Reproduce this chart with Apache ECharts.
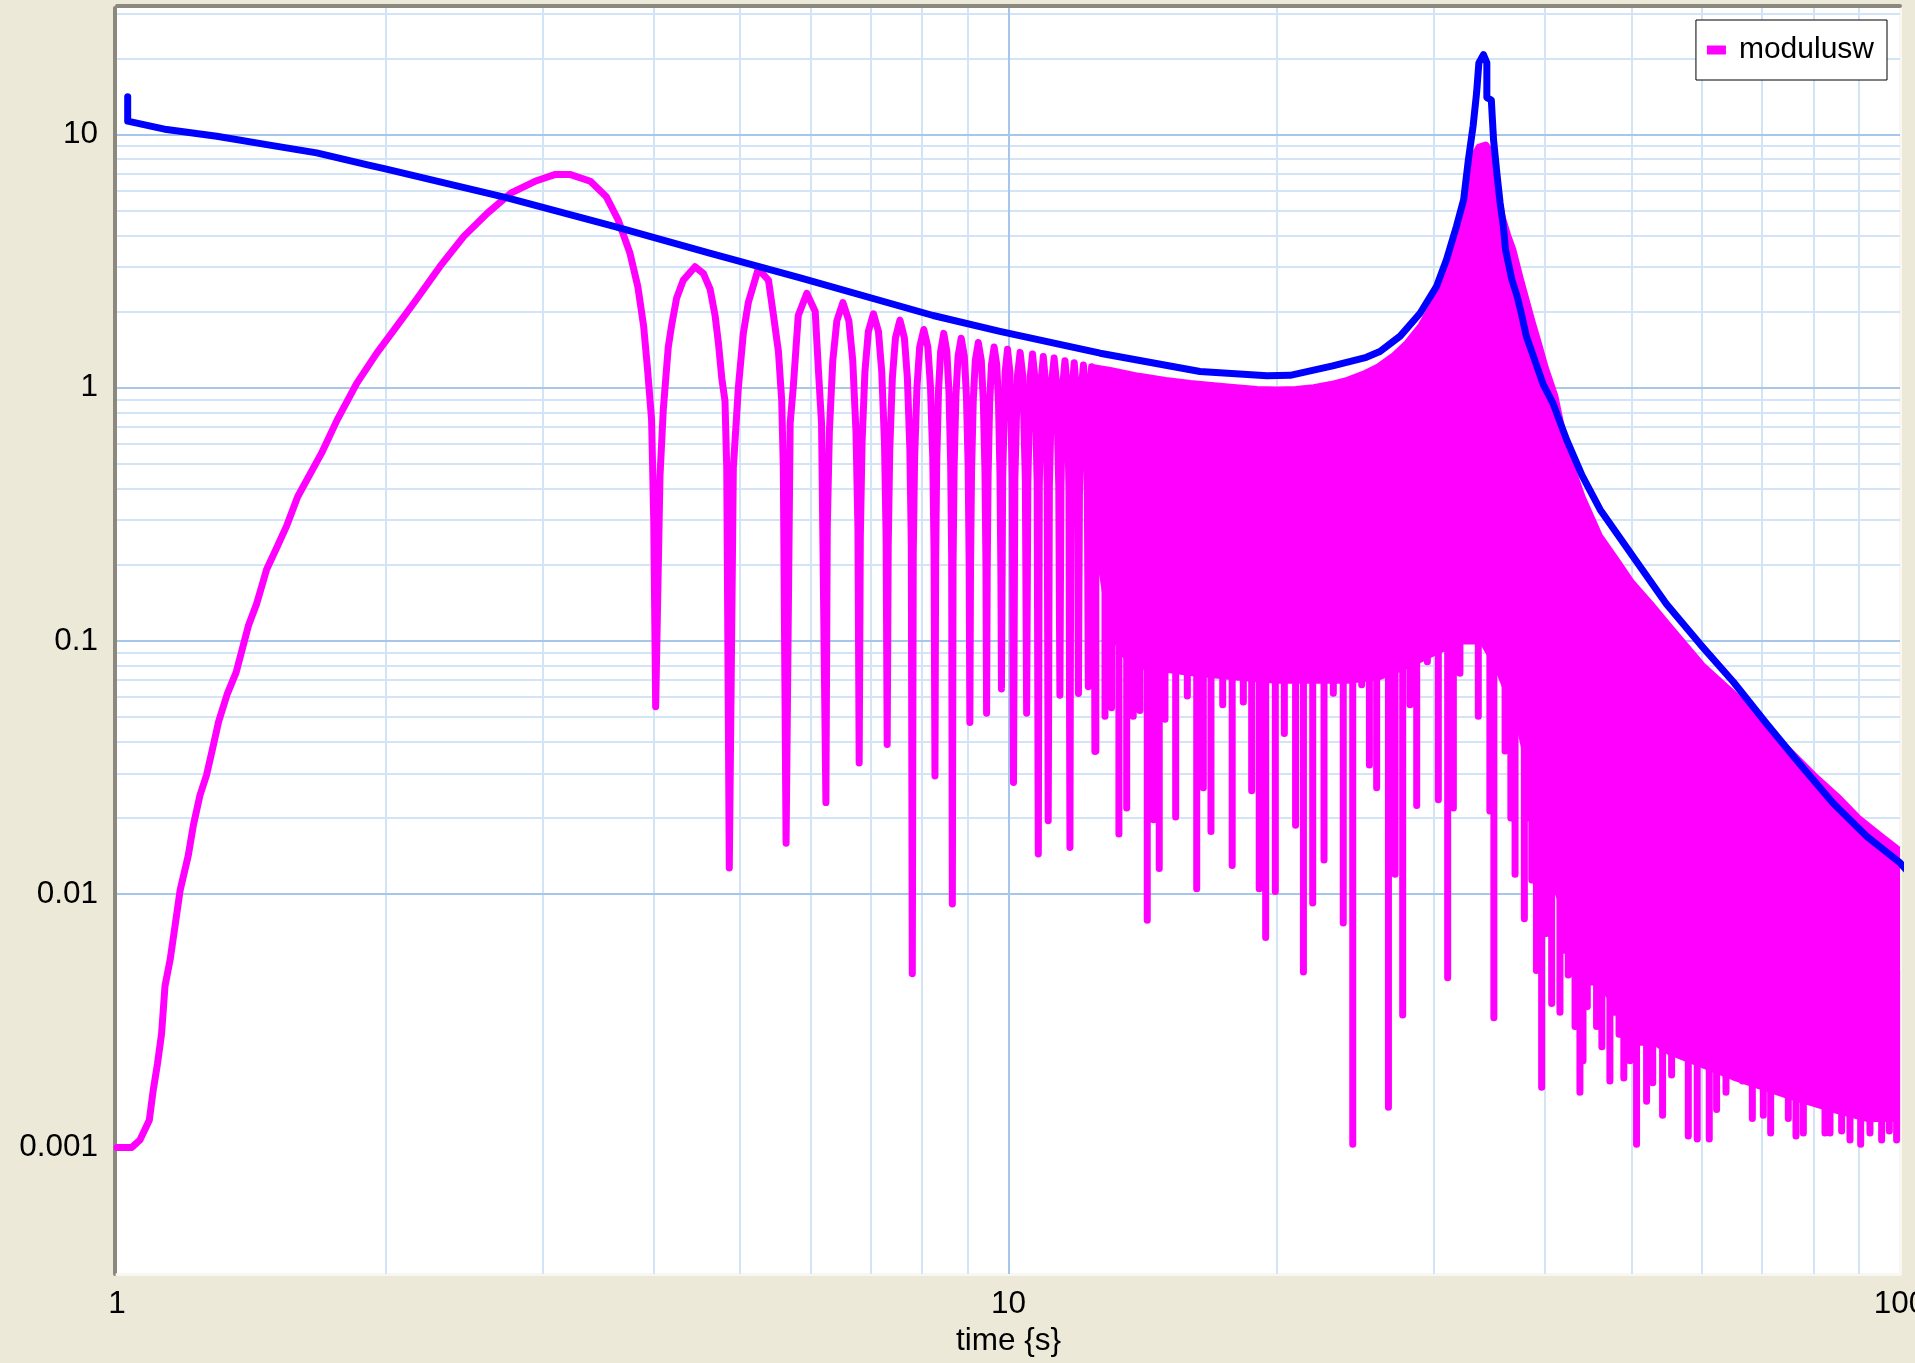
<!DOCTYPE html>
<html>
<head>
<meta charset="utf-8">
<style>
html,body{margin:0;padding:0;background:#ECE9D8;overflow:hidden;}
#chart{width:1915px;height:1363px;}
</style>
<script src="https://cdn.jsdelivr.net/npm/echarts@6/dist/echarts.min.js"></script>
</head>
<body>
<div id="chart"></div>
<script>
// ---------------- DATA ----------------
const xTicks = [1, 10, 100];
const xTickText = ['1', '10', '100'];
const yTicks = [0.001, 0.01, 0.1, 1, 10];
const yTickText = ['0.001', '0.01', '0.1', '1', '10'];
const xRange = [1, 100];
const yRange = [0.000316227766, 31.6227766];

const xGridMajor = [10];
const xGridMinor = [2, 3, 4, 5, 6, 7, 8, 9, 20, 30, 40, 50, 60, 70, 80, 90];
const yGridMajor = [0.001, 0.01, 0.1, 1, 10];
const yGridMinor = [0.002, 0.003, 0.004, 0.005, 0.006, 0.007, 0.008, 0.009,
  0.02, 0.03, 0.04, 0.05, 0.06, 0.07, 0.08, 0.09,
  0.2, 0.3, 0.4, 0.5, 0.6, 0.7, 0.8, 0.9,
  2, 3, 4, 5, 6, 7, 8, 9, 20, 30];

// blue envelope curve [time, value]
const envelope = [[1.028,14.1],[1.028,11.3],[1.137,10.47],[1.294,9.85],[1.472,9.13],[1.675,8.47],[1.905,7.61],[2.0,7.32],
  [2.74,5.62],[3.61,4.34],[4.61,3.41],[5.84,2.72],[8.23,1.93],[9.78,1.67],[12.67,1.37],[16.4,1.16],[19.5,1.117],
  [20.7,1.12],[23.1,1.22],[25.2,1.32],[26.1,1.39],[27.5,1.6],[28.95,1.97],[30.2,2.51],[31.0,3.21],[31.8,4.34],
  [32.4,5.53],[32.8,7.96],[33.2,10.8],[33.5,14.6],[33.7,19.2],[34.1,20.7],[34.4,19.2],[34.4,14.0],[34.8,13.7],
  [35.0,9.55],[35.3,7.06],[35.6,5.37],[35.9,4.34],[36.1,3.51],[36.7,2.67],[37.2,2.30],[37.6,1.97],[38.1,1.595],
  [38.8,1.33],[39.8,1.03],[40.8,0.87],[42.3,0.62],[44.0,0.45],[46.1,0.33],[50.2,0.215],[54.7,0.14],[59.7,0.097],
  [65.0,0.069],[70.9,0.047],[77.2,0.0327],[84.2,0.0228],[91.8,0.0169],[100,0.0133],[104,0.0114]];

// modulusw: first rise and first lobe
const magRise = [[1.0,0.001],[1.039,0.001],[1.061,0.00107],[1.087,0.00128],[1.098,0.00168],[1.110,0.00213],
  [1.122,0.00281],[1.132,0.00434],[1.147,0.0055],[1.162,0.00754],[1.177,0.01035],[1.202,0.0142],[1.218,0.0187],
  [1.239,0.0246],[1.26,0.0295],[1.282,0.0385],[1.30,0.048],[1.33,0.062],[1.36,0.075],[1.404,0.1148],
  [1.434,0.14],[1.472,0.192],[1.511,0.234],[1.55,0.285],[1.595,0.372],[1.696,0.552],[1.766,0.747],[1.858,1.044],
  [1.956,1.371],[2.059,1.747],[2.166,2.228],[2.303,3.016],[2.449,3.963],[2.604,4.903],[2.768,5.883],[2.944,6.54],
  [3.097,6.95],[3.227,6.95],[3.396,6.54],[3.537,5.70],[3.648,4.61],[3.761,3.41],[3.839,2.51],[3.897,1.75],
  [3.937,1.178],[3.978,0.747],[4.0,0.3],[4.02,0.055]];

// modulusw: separate lobes between 4 s and 12.5 s
const magLobes = [
  [4.065,0.446],[4.1,0.82],[4.153,1.448],[4.19,1.774],[4.244,2.264],[4.318,2.663],[4.45,3.008],[4.547,2.83],
  [4.627,2.455],[4.687,1.926],[4.727,1.508],[4.769,1.089],[4.808,0.889],[4.83,0.483],[4.862,0.0127],
  [4.913,0.483],[4.977,1.0],[5.041,1.636],[5.107,2.17],[5.24,2.95],[5.38,2.66],[5.45,1.93],[5.52,1.39],
  [5.567,0.889],[5.59,0.483],[5.63,0.0159],
  [5.69,0.726],[5.735,1.0],[5.81,1.93],[5.94,2.36],[6.07,2.0],[6.12,1.18],[6.17,0.726],[6.24,0.023],
  [6.262,0.28],[6.296,0.67],[6.352,1.28],[6.419,1.84],[6.52,2.17],[6.621,1.84],[6.688,1.28],[6.744,0.67],[6.778,0.28],[6.80,0.033],
  [6.820,0.255],[6.851,0.61],[6.902,1.16],[6.963,1.67],[7.055,1.96],[7.147,1.67],[7.208,1.16],[7.259,0.61],[7.290,0.255],[7.31,0.039],
  [7.330,0.24],[7.359,0.57],[7.408,1.09],[7.467,1.57],[7.555,1.85],[7.643,1.57],[7.702,1.09],[7.751,0.57],[7.780,0.24],[7.80,0.00485],
  [7.819,0.22],[7.847,0.53],[7.894,1.0],[7.950,1.45],[8.035,1.70],[8.120,1.45],[8.176,1.0],[8.223,0.53],[8.251,0.22],[8.27,0.0293],
  [8.285,0.21],[8.308,0.51],[8.346,0.97],[8.392,1.39],[8.46,1.64],[8.528,1.39],[8.574,0.97],[8.612,0.51],[8.635,0.21],[8.65,0.00915],
  [8.666,0.2],[8.69,0.49],[8.73,0.93],[8.778,1.33],[8.85,1.57],[8.922,1.33],[8.97,0.93],[9.01,0.49],[9.034,0.2],[9.05,0.0477],
  [9.066,0.2],[9.09,0.47],[9.13,0.89],[9.178,1.28],[9.25,1.51],[9.322,1.28],[9.37,0.89],[9.41,0.47],[9.434,0.2],[9.45,0.0518],
  [9.465,0.19],[9.487,0.45],[9.524,0.86],[9.568,1.23],[9.635,1.45],[9.702,1.23],[9.746,0.86],[9.783,0.45],[9.805,0.19],[9.82,0.0647],
  [9.851,0.44],[9.913,1.15],[9.975,1.42],[10.037,1.15],[10.099,0.44],[10.13,0.0276],
  [10.165,0.43],[10.235,1.12],[10.305,1.38],[10.375,1.12],[10.445,0.43],[10.48,0.0518],
  [10.512,0.42],[10.576,1.10],[10.64,1.36],[10.704,1.10],[10.768,0.42],[10.80,0.0144],
  [10.828,0.41],[10.884,1.08],[10.94,1.33],[10.996,1.08],[11.052,0.41],[11.08,0.0195],
  [11.114,0.41],[11.182,1.06],[11.25,1.31],[11.318,1.06],[11.386,0.41],[11.42,0.061],
  [11.45,0.40],[11.51,1.04],[11.57,1.28],[11.63,1.04],[11.69,0.40],[11.72,0.0153],
  [11.746,0.39],[11.798,1.02],[11.85,1.255],[11.902,1.02],[11.954,0.39],[11.98,0.0621],
  [12.011,0.38],[12.073,1.0],[12.135,1.23],[12.197,1.0],[12.259,0.38],[12.29,0.066],
  [12.311,0.38],[12.353,0.98],[12.395,1.21],[12.437,0.98],[12.479,0.38],[12.50,0.0366]];

// modulusw: dense oscillation region, upper and lower edge of the solid band
const bandUpper = [[12.45,1.2],[13,1.17],[14,1.11],[15,1.07],[16,1.04],[17,1.02],[18,1.0],[19,0.985],[20,0.98],
  [21,0.985],[22,1.0],[23,1.03],[24,1.07],[25,1.13],[26,1.21],[27,1.33],[28,1.5],[29,1.75],[30,2.15],[31,2.75],
  [32,3.8],[32.4,4.9],[32.8,6.8],[33.2,8.1],[33.7,8.9],[34.3,9.1],[34.8,8.4],[35.1,7.1],[35.4,5.8],[35.8,4.7],
  [36.3,4.0],[36.8,3.5],[37.5,2.7],[38.1,2.2],[38.7,1.8],[39.3,1.5],[40.0,1.2],[41.0,0.93],[42.3,0.55],[44,0.37],
  [46,0.26],[48,0.21],[50,0.17],[52.5,0.14],[55,0.115],[60,0.08],[65,0.062],[70,0.047],[75,0.037],[80,0.0295],
  [85,0.0243],[90,0.0198],[95,0.017],[100,0.0148]];
const bandLower = [[12.45,0.35],[12.7,0.2],[13.0,0.12],[13.4,0.09],[14,0.08],[16,0.075],[18,0.072],[20,0.07],
  [22,0.07],[24,0.07],[26,0.072],[28,0.08],[30,0.09],[32,0.1],[34,0.1],[35.3,0.08],[36.5,0.06],[37.5,0.045],
  [38.5,0.03],[39.5,0.018],[41,0.011],[43,0.007],[46,0.0045],[50,0.003],[55,0.0024],[65,0.0019],[75,0.0016],
  [85,0.0014],[92,0.0013],[100,0.0013]];

// modulusw: deep dips (spikes) leaving the band, [time, dip value]; each group hangs from a level inside the band
const spikeRoot1 = 0.3;
const spikes1 = [[12.53,0.0368],[12.83,0.0504],[13.05,0.0545],[13.30,0.0173],[13.57,0.0219],[13.80,0.0504],
  [14.04,0.0531],[14.31,0.00789],[14.54,0.0197],[14.76,0.01263],[14.98,0.0491],[15.40,0.0202],[15.87,0.0606],
  [16.26,0.0105],[16.54,0.0263],[16.87,0.0177],[17.39,0.056],[17.82,0.01297],[18.34,0.0574],[18.74,0.0256],
  [19.11,0.0105],[19.43,0.00675],[19.92,0.01026],[20.39,0.0431],[20.99,0.0187],[21.42,0.00493],[21.94,0.00923],
  [22.59,0.01366],[23.14,0.0622],[23.74,0.00769],[24.33,0.00103],[24.90,0.0672],[25.40,0.0324],[25.88,0.0263],
  [26.68,0.00144],[27.14,0.012],[27.68,0.00333],[28.21,0.056],[28.70,0.0224],[29.50,0.0828],[30.35,0.0236],
  [31.09,0.00468],[31.55,0.0219],[32.09,0.0746],[33.65,0.0504],[34.67,0.0213],[35.03,0.00325]];
const spikeRoot2 = 0.15;
const spikes2 = [[36.06,0.0368],[36.6,0.02],[37.0,0.012],[37.33,0.0454],[37.9,0.008],[38.2,0.02],[38.64,0.01138],
  [39.1,0.005],[39.63,0.00173],[40.1,0.007],[40.67,0.0037]];
const spikeRoot3 = 0.05;
const spikes3 = [[41.55,0.00342],[42.0,0.006],[42.45,0.0048],[43.2,0.003],[43.75,0.00165],[44.1,0.0022],
  [44.59,0.0036],[45.1,0.0045],[45.67,0.003],[46.3,0.0025],[47.27,0.00183],[47.88,0.00342],[48.4,0.0028],
  [49.0,0.00188],[49.8,0.0022],[50.64,0.00103],[51.3,0.0026],[51.97,0.00152],[52.8,0.0018]];
const spikeRoot4 = 0.005;
const spikes4 = [[54.16,0.00134],[55.44,0.00193],[57.88,0.00111],[59.23,0.00108],[61.10,0.00108],[62.27,0.00141],
  [63.8,0.00165],[66.6,0.00183],[68.29,0.0013],[70.26,0.00134],[71.6,0.00114],[74.94,0.0013],[76.44,0.00111],
  [77.91,0.00114],[82.39,0.00114],[83.46,0.00114],[86.01,0.00116],[87.88,0.00107],[90.34,0.00103],
  [92.54,0.00114],[95.37,0.00107],[97.28,0.00116],[99.13,0.00107]];

// ---------------- CHART ----------------
const FONT = '"Liberation Sans", Arial, Helvetica, sans-serif';
const MAG = '#ff00ff';
const BLUE = '#0000ff';
const GRID_MAJOR = '#a6c7ea';
const GRID_MINOR = '#d3e4f7';
const LW = 7;
const FS = 31.5;

function tickLabel(v, ticks, texts) {
  const lv = Math.log10(v);
  for (let i = 0; i < ticks.length; i++) {
    if (Math.abs(lv - Math.log10(ticks[i])) < 1e-6) return texts[i];
  }
  return '';
}

function spikeData(list, root) {
  const out = [];
  list.forEach(function (p) {
    out.push([p[0], root]);
    out.push([p[0], p[1]]);
    out.push([p[0], root]);
  });
  return out;
}

const gridLines = [];
xGridMinor.forEach(v => gridLines.push({ xAxis: v, lineStyle: { color: GRID_MINOR, width: 2, type: 'solid' } }));
yGridMinor.forEach(v => gridLines.push({ yAxis: v, lineStyle: { color: GRID_MINOR, width: 2, type: 'solid' } }));
xGridMajor.forEach(v => gridLines.push({ xAxis: v, lineStyle: { color: GRID_MAJOR, width: 2, type: 'solid' } }));
yGridMajor.forEach(v => gridLines.push({ yAxis: v, lineStyle: { color: GRID_MAJOR, width: 2, type: 'solid' } }));

const spikeStyle = { width: LW, color: MAG, cap: 'round', join: 'round' };

const chart = echarts.init(document.getElementById('chart'), null, { renderer: 'canvas' });
const option = {
  backgroundColor: '#ECE9D8',
  animation: false,
  textStyle: { fontFamily: FONT },
  grid: { left: 117, top: 8, width: 1783, height: 1266, show: true, backgroundColor: '#ffffff', borderWidth: 0,
    containLabel: false, outerBoundsMode: 'none' },
  legend: {
    data: [{ name: 'modulusw', icon: 'rect', itemStyle: { color: MAG } }],
    right: 28, top: 20, orient: 'vertical',
    padding: [15, 13, 15, 11],
    itemWidth: 19, itemHeight: 9,
    backgroundColor: '#ffffff', borderColor: '#000000', borderWidth: 1, borderRadius: 0,
    selectedMode: false,
    textStyle: { fontSize: 30, color: '#000', fontFamily: FONT, padding: [0, 0, 0, 8] }
  },
  xAxis: [
    {
      type: 'log', logBase: 10, min: xRange[0], max: xRange[1], position: 'bottom',
      axisLine: { show: true, onZero: false, lineStyle: { color: '#f8f7f1', width: 3 } },
      axisTick: { show: false }, splitLine: { show: false }, minorTick: { show: false },
      axisLabel: { fontSize: FS, color: '#000', margin: 14, fontFamily: FONT, hideOverlap: false,
        formatter: v => tickLabel(v, xTicks, xTickText) },
      name: 'time {s}', nameLocation: 'middle', nameGap: 50,
      nameTextStyle: { fontSize: FS, color: '#000', fontFamily: FONT }
    },
    {
      type: 'value', position: 'top', min: 0, max: 1, offset: 2,
      axisLine: { show: true, onZero: false, lineStyle: { color: '#8b887d', width: 4 } },
      axisTick: { show: false }, splitLine: { show: false }, axisLabel: { show: false }
    }
  ],
  yAxis: [
    {
      type: 'log', logBase: 10, min: yRange[0], max: yRange[1], offset: 2,
      axisLine: { show: true, onZero: false, lineStyle: { color: '#8b887d', width: 4 } },
      axisTick: { show: false }, splitLine: { show: false }, minorTick: { show: false },
      axisLabel: { fontSize: FS, color: '#000', margin: 17, fontFamily: FONT,
        formatter: v => tickLabel(v, yTicks, yTickText) }
    },
    {
      type: 'value', position: 'right', min: 0, max: 1,
      axisLine: { show: true, onZero: false, lineStyle: { color: '#f8f7f1', width: 3 } },
      axisTick: { show: false }, splitLine: { show: false }, axisLabel: { show: false }
    }
  ],
  series: [
    {
      name: 'modulusw', type: 'custom', z: 3, clip: true,
      xAxisIndex: 0, yAxisIndex: 0,
      data: [bandUpper[0]],
      encode: { x: 0, y: 1 },
      renderItem: function (params, api) {
        if (params.dataIndex !== 0) return;
        const pts = [];
        bandUpper.forEach(p => pts.push(api.coord(p)));
        for (let i = bandLower.length - 1; i >= 0; i--) pts.push(api.coord(bandLower[i]));
        return {
          type: 'polygon', shape: { points: pts },
          style: { fill: MAG, stroke: MAG, lineWidth: LW, lineJoin: 'round' }
        };
      }
    },
    {
      name: 'modulusw', type: 'line', z: 3, xAxisIndex: 0, yAxisIndex: 0,
      data: magRise.concat(magLobes), showSymbol: false, symbol: 'none',
      lineStyle: { width: LW, color: MAG, cap: 'round', join: 'round' }
    },
    { name: 'modulusw', type: 'line', z: 3, data: spikeData(spikes1, spikeRoot1), symbol: 'none', lineStyle: spikeStyle },
    { name: 'modulusw', type: 'line', z: 3, data: spikeData(spikes2, spikeRoot2), symbol: 'none', lineStyle: spikeStyle },
    { name: 'modulusw', type: 'line', z: 3, data: spikeData(spikes3, spikeRoot3), symbol: 'none', lineStyle: spikeStyle },
    { name: 'modulusw', type: 'line', z: 3, data: spikeData(spikes4, spikeRoot4), symbol: 'none', lineStyle: spikeStyle },
    {
      name: 'modulus', type: 'line', z: 4, clip: false, xAxisIndex: 0, yAxisIndex: 0,
      data: envelope, symbol: 'none',
      lineStyle: { width: LW, color: BLUE, cap: 'round', join: 'round' },
      markLine: { silent: true, z: 1, symbol: ['none', 'none'], label: { show: false }, animation: false, data: gridLines }
    }
  ]
};
chart.setOption(option);
</script>
</body>
</html>
